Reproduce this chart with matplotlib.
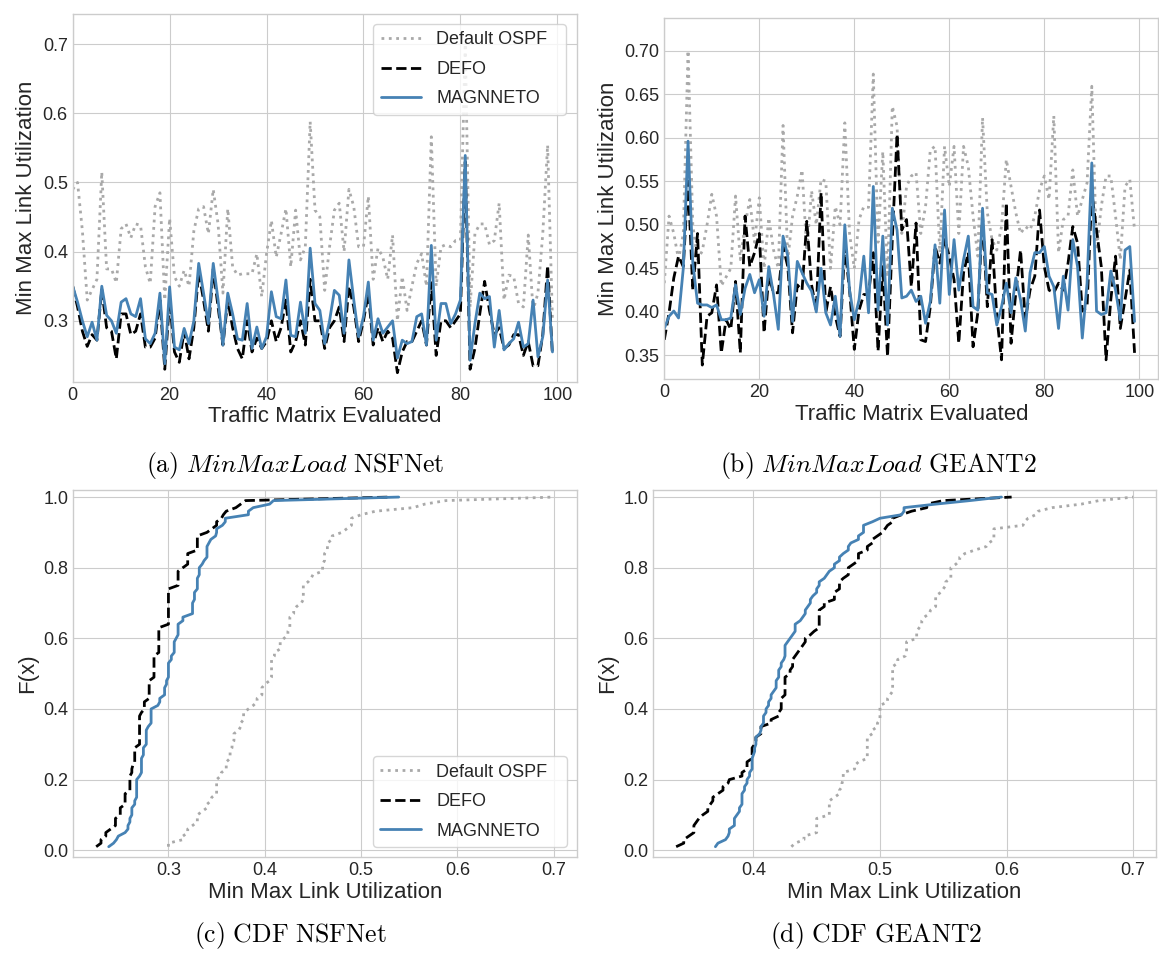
import matplotlib
matplotlib.use("Agg")
import matplotlib.pyplot as plt
import numpy as np

# Min max link utilization per evaluated traffic matrix (0..99)
ospf_nsf = [0.49, 0.50, 0.43, 0.33, 0.345, 0.36, 0.515, 0.375, 0.375, 0.355,
            0.433, 0.44, 0.42, 0.44, 0.438, 0.378, 0.354, 0.465, 0.485, 0.33,
            0.448, 0.364, 0.35, 0.373, 0.35, 0.43, 0.462, 0.465, 0.426, 0.49,
            0.44, 0.34, 0.462, 0.378, 0.366, 0.368, 0.368, 0.368, 0.397, 0.335,
            0.397, 0.445, 0.392, 0.426, 0.462, 0.378, 0.46, 0.388, 0.407, 0.588,
            0.46, 0.45, 0.344, 0.407, 0.46, 0.47, 0.40, 0.49, 0.465, 0.407,
            0.407, 0.48, 0.36, 0.405, 0.392, 0.36, 0.424, 0.30, 0.364, 0.315,
            0.35, 0.383, 0.397, 0.35, 0.566, 0.35, 0.407, 0.41, 0.407, 0.416,
            0.416, 0.70, 0.32, 0.426, 0.44, 0.44, 0.41, 0.416, 0.47, 0.33,
            0.366, 0.364, 0.325, 0.32, 0.424, 0.315, 0.34, 0.426, 0.554, 0.30]
defo_nsf = [0.35, 0.32, 0.285, 0.263, 0.28, 0.272, 0.345, 0.29, 0.285, 0.245,
            0.31, 0.31, 0.28, 0.285, 0.31, 0.262, 0.262, 0.275, 0.33, 0.23,
            0.33, 0.255, 0.24, 0.285, 0.245, 0.29, 0.37, 0.33, 0.285, 0.375,
            0.32, 0.265, 0.33, 0.29, 0.26, 0.245, 0.30, 0.255, 0.275, 0.26,
            0.27, 0.30, 0.27, 0.29, 0.33, 0.255, 0.27, 0.30, 0.265, 0.36,
            0.30, 0.30, 0.26, 0.29, 0.30, 0.32, 0.27, 0.35, 0.32, 0.27,
            0.30, 0.34, 0.265, 0.29, 0.27, 0.285, 0.275, 0.225, 0.255, 0.27,
            0.27, 0.285, 0.30, 0.265, 0.355, 0.25, 0.30, 0.30, 0.29, 0.30,
            0.31, 0.53, 0.23, 0.26, 0.31, 0.357, 0.315, 0.28, 0.29, 0.26,
            0.265, 0.28, 0.28, 0.25, 0.27, 0.235, 0.235, 0.28, 0.38, 0.25]
magnneto_nsf = [0.35, 0.327, 0.30, 0.277, 0.298, 0.272, 0.35, 0.308, 0.30, 0.282,
                0.327, 0.332, 0.31, 0.306, 0.332, 0.274, 0.267, 0.282, 0.34, 0.238,
                0.349, 0.262, 0.258, 0.289, 0.267, 0.30, 0.383, 0.34, 0.296, 0.383,
                0.33, 0.265, 0.34, 0.31, 0.274, 0.272, 0.325, 0.26, 0.291, 0.26,
                0.277, 0.342, 0.306, 0.303, 0.359, 0.279, 0.277, 0.327, 0.282, 0.405,
                0.325, 0.315, 0.267, 0.30, 0.344, 0.337, 0.282, 0.388, 0.33, 0.277,
                0.306, 0.356, 0.272, 0.303, 0.282, 0.291, 0.30, 0.246, 0.272, 0.267,
                0.27, 0.306, 0.31, 0.265, 0.409, 0.272, 0.325, 0.325, 0.296, 0.31,
                0.33, 0.539, 0.243, 0.296, 0.34, 0.332, 0.335, 0.262, 0.315, 0.258,
                0.267, 0.274, 0.298, 0.262, 0.267, 0.33, 0.248, 0.277, 0.359, 0.255]

ospf_geant = [0.433, 0.51, 0.49, 0.46, 0.49, 0.70, 0.50, 0.46, 0.47, 0.50,
              0.535, 0.51, 0.43, 0.44, 0.45, 0.533, 0.46, 0.50, 0.529, 0.48,
              0.531, 0.45, 0.508, 0.471, 0.45, 0.614, 0.46, 0.51, 0.533, 0.563,
              0.47, 0.539, 0.50, 0.552, 0.55, 0.45, 0.521, 0.50, 0.617, 0.49,
              0.45, 0.506, 0.521, 0.52, 0.673, 0.48, 0.584, 0.44, 0.636, 0.613,
              0.49, 0.544, 0.556, 0.56, 0.49, 0.521, 0.586, 0.59, 0.468, 0.59,
              0.544, 0.59, 0.49, 0.59, 0.567, 0.51, 0.464, 0.623, 0.514, 0.483,
              0.471, 0.498, 0.575, 0.544, 0.514, 0.49, 0.498, 0.494, 0.51, 0.54,
              0.556, 0.529, 0.625, 0.468, 0.506, 0.51, 0.563, 0.51, 0.529, 0.548,
              0.659, 0.471, 0.521, 0.556, 0.556, 0.51, 0.46, 0.544, 0.552, 0.494]
defo_geant = [0.368, 0.399, 0.439, 0.464, 0.452, 0.55, 0.425, 0.49, 0.339, 0.395,
              0.399, 0.431, 0.353, 0.391, 0.38, 0.435, 0.353, 0.51, 0.452, 0.468,
              0.49, 0.376, 0.441, 0.422, 0.422, 0.475, 0.452, 0.376, 0.431, 0.425,
              0.504, 0.431, 0.402, 0.537, 0.399, 0.429, 0.395, 0.372, 0.475, 0.425,
              0.357, 0.402, 0.42, 0.42, 0.468, 0.355, 0.452, 0.349, 0.483, 0.604,
              0.494, 0.506, 0.429, 0.502, 0.368, 0.366, 0.406, 0.475, 0.456, 0.483,
              0.464, 0.437, 0.364, 0.445, 0.468, 0.36, 0.399, 0.51, 0.406, 0.483,
              0.395, 0.345, 0.525, 0.364, 0.422, 0.471, 0.391, 0.425, 0.441, 0.517,
              0.452, 0.425, 0.422, 0.433, 0.425, 0.456, 0.498, 0.479, 0.401, 0.406,
              0.537, 0.494, 0.452, 0.345, 0.414, 0.464, 0.381, 0.414, 0.448, 0.353]
magnneto_geant = [0.381, 0.395, 0.401, 0.393, 0.45, 0.596, 0.456, 0.41, 0.408, 0.408,
                  0.405, 0.408, 0.391, 0.391, 0.393, 0.431, 0.397, 0.427, 0.443, 0.422,
                  0.437, 0.395, 0.452, 0.42, 0.38, 0.487, 0.464, 0.389, 0.458, 0.445,
                  0.433, 0.424, 0.40, 0.45, 0.399, 0.385, 0.418, 0.372, 0.50, 0.425,
                  0.391, 0.414, 0.464, 0.399, 0.544, 0.402, 0.487, 0.385, 0.519, 0.494,
                  0.416, 0.418, 0.425, 0.412, 0.418, 0.387, 0.412, 0.477, 0.41, 0.517,
                  0.42, 0.483, 0.425, 0.46, 0.487, 0.406, 0.402, 0.519, 0.422, 0.42,
                  0.385, 0.406, 0.433, 0.399, 0.439, 0.414, 0.378, 0.445, 0.468, 0.468,
                  0.475, 0.441, 0.429, 0.381, 0.441, 0.402, 0.483, 0.452, 0.37, 0.433,
                  0.571, 0.401, 0.397, 0.399, 0.447, 0.425, 0.391, 0.471, 0.475, 0.389]

labels = ["Default OSPF", "DEFO", "MAGNNETO"]
captions = [r"$\mathrm{(a)}\ MinMaxLoad\ \mathrm{NSFNet}$",
            r"$\mathrm{(b)}\ MinMaxLoad\ \mathrm{GEANT2}$",
            r"$\mathrm{(c)\ CDF\ NSFNet}$",
            r"$\mathrm{(d)\ CDF\ GEANT2}$"]

plt.style.use("seaborn-v0_8-whitegrid")
plt.rcParams["font.family"] = ["Liberation Sans", "DejaVu Sans"]
plt.rcParams["mathtext.fontset"] = "cm"
plt.rcParams["axes.edgecolor"] = "0.8"
plt.rcParams["grid.color"] = "0.8"
plt.rcParams["text.color"] = "0.15"
plt.rcParams["xtick.color"] = "0.15"
plt.rcParams["ytick.color"] = "0.15"

styles = [dict(color="darkgray", ls=":", lw=2.0),
          dict(color="black", ls="--", lw=2.0),
          dict(color="steelblue", ls="-", lw=2.0)]

fig = plt.figure(figsize=(11.59, 9.56), dpi=100)
W, H = 1159, 956
def box(l, t, r, b):
    return [l / W, 1 - b / H, (r - l) / W, (b - t) / H]

ax_a = fig.add_axes(box(72.7, 14.3, 576.7, 381.7))
ax_b = fig.add_axes(box(664.3, 18.3, 1158.3, 379))
ax_c = fig.add_axes(box(73.3, 490, 576.7, 857.3))
ax_d = fig.add_axes(box(653.3, 490, 1156, 857.3))

idx = np.arange(len(ospf_nsf))
for ax, series in [(ax_a, [ospf_nsf, defo_nsf, magnneto_nsf]),
                   (ax_b, [ospf_geant, defo_geant, magnneto_geant])]:
    for s, st, lab in zip(series, styles, labels):
        ax.plot(idx, s, label=lab, **st)
    ax.set_xlim(0, 104)
    ax.set_xlabel("Traffic Matrix Evaluated", fontsize=16, labelpad=2)
    ax.set_ylabel("Min Max Link Utilization", fontsize=16)
ax_a.set_ylim(0.212, 0.743)
ax_b.set_ylim(0.323, 0.737)
ax_b.set_yticks([0.35, 0.40, 0.45, 0.50, 0.55, 0.60, 0.65, 0.70])

for ax, series in [(ax_c, [ospf_nsf, defo_nsf, magnneto_nsf]),
                   (ax_d, [ospf_geant, defo_geant, magnneto_geant])]:
    for s, st, lab in zip(series, styles, labels):
        xs = np.sort(s)
        fx = np.arange(1, len(xs) + 1) / len(xs)
        ax.plot(xs, fx, label=lab, **st)
    ax.set_ylim(-0.02, 1.02)
    ax.set_xlabel("Min Max Link Utilization", fontsize=16, labelpad=2)
    ax.set_ylabel("F(x)", fontsize=16)
ax_c.set_xticks([0.3, 0.4, 0.5, 0.6, 0.7])
ax_d.set_xticks([0.4, 0.5, 0.6, 0.7])

for ax in [ax_a, ax_b, ax_c, ax_d]:
    ax.tick_params(labelsize=13)

leg_kw = dict(fontsize=13, frameon=True, handlelength=2.25, handletextpad=0.85,
              labelspacing=0.7, framealpha=0.8, edgecolor="0.8", fancybox=True,
              mode="expand", borderaxespad=0)
ax_a.legend(loc="upper right", bbox_to_anchor=(0.5964, 0.0, 0.3824, 0.9736), **leg_kw)
ax_c.legend(loc="lower right", bbox_to_anchor=(0.5953, 0.028, 0.3854, 0.9), **leg_kw)

cap_pos = [(295, 472), (878, 472), (290, 942), (876, 942)]
for (cx, cy), cap in zip(cap_pos, captions):
    fig.text(cx / W, 1 - cy / H, cap, ha="center", va="baseline", fontsize=18.5,
             color="black")

fig.savefig("out.png", dpi=100)
